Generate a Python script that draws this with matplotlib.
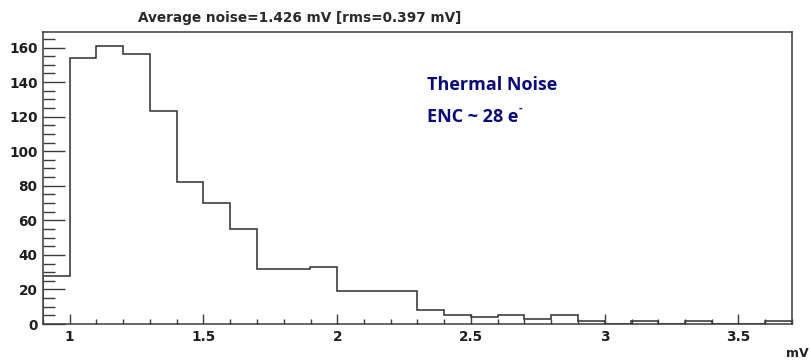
import matplotlib
matplotlib.use("Agg")
import matplotlib.pyplot as plt
from matplotlib.ticker import MultipleLocator, FixedLocator

# ---- data ----
bin_edges = [0.9, 1.0, 1.1, 1.2, 1.3, 1.4, 1.5, 1.6, 1.7, 1.8, 1.9, 2.0, 2.1,
             2.2, 2.3, 2.4, 2.5, 2.6, 2.7, 2.8, 2.9, 3.0, 3.1, 3.2, 3.3, 3.4,
             3.5, 3.6, 3.7]
counts = [28, 154, 161, 156, 123, 82, 70, 55, 32, 32, 33, 19, 19,
          19, 8, 5, 4, 5, 3, 5, 2, 0, 2, 0, 2, 0, 0, 2]
x_ticks = [1, 1.5, 2, 2.5, 3, 3.5]
x_tick_labels = ["1", "1.5", "2", "2.5", "3", "3.5"]
y_ticks = [0, 20, 40, 60, 80, 100, 120, 140, 160]
title_text = "Average noise=1.426 mV [rms=0.397 mV]"
x_label = "mV"
note_lines = ["Thermal Noise", "ENC ~ 28 e"]

W, H = 811, 361
fig = plt.figure(figsize=(W / 100, H / 100), dpi=100)
fig.patch.set_facecolor("white")

def fx(px):
    return px / W

def fy(py):
    return 1 - py / H

ax = fig.add_axes([fx(43), fy(324), fx(792) - fx(43), fy(32) - fy(324)])
ax.stairs(counts, bin_edges, baseline=0, color="#2e2e2e", linewidth=1.1)
ax.set_xlim(0.9, 3.7)
ax.set_ylim(0, 169)

for s in ax.spines.values():
    s.set_color("#3c3c3c")
    s.set_linewidth(1.1)

ax.xaxis.set_major_locator(FixedLocator(x_ticks))
ax.set_xticklabels(x_tick_labels)
ax.xaxis.set_minor_locator(MultipleLocator(0.1))
ax.yaxis.set_major_locator(FixedLocator(y_ticks))
ax.yaxis.set_minor_locator(MultipleLocator(5))

tick_font = dict(family="DejaVu Sans", weight="bold", size=9.8)
for lab in ax.get_xticklabels() + ax.get_yticklabels():
    lab.set_fontproperties(matplotlib.font_manager.FontProperties(**tick_font))
    lab.set_color("#1e1e1e")

ax.tick_params(axis="y", which="major", direction="in", length=16, width=1.0,
               color="#3c3c3c", pad=4)
ax.tick_params(axis="y", which="minor", direction="in", length=8.5, width=1.0,
               color="#3c3c3c")
ax.tick_params(axis="x", which="major", direction="in", length=7, width=1.0,
               color="#3c3c3c", pad=4)
ax.tick_params(axis="x", which="minor", direction="in", length=3.5, width=1.0,
               color="#3c3c3c")

# title (ROOT style, left of centre)
fig.text(fx(299.5), fy(22), title_text, ha="center", va="baseline",
         family="DejaVu Sans", weight="bold", fontsize=9.8, color="#2a2a2a")

# axis unit label at the bottom right corner
fig.text(fx(809), fy(360), x_label, ha="right", va="bottom",
         family="DejaVu Sans", weight="bold", fontsize=9, color="#222222")

# annotation
navy = "#0b0b78"
fig.text(fx(427), fy(90), note_lines[0], ha="left", va="baseline",
         family="Open Sans", weight="bold", fontsize=13, color=navy)
t2 = fig.text(fx(427), fy(122.5), note_lines[1], ha="left", va="baseline",
              family="Open Sans", weight="bold", fontsize=13, color=navy)
fig.canvas.draw()
bb = t2.get_window_extent(renderer=fig.canvas.get_renderer())
fig.text(bb.x1 / W + fx(0.5), fy(111), "-", ha="left", va="baseline",
         family="Open Sans", weight="bold", fontsize=8, color=navy)

fig.savefig("out.png", dpi=100, facecolor="white")
